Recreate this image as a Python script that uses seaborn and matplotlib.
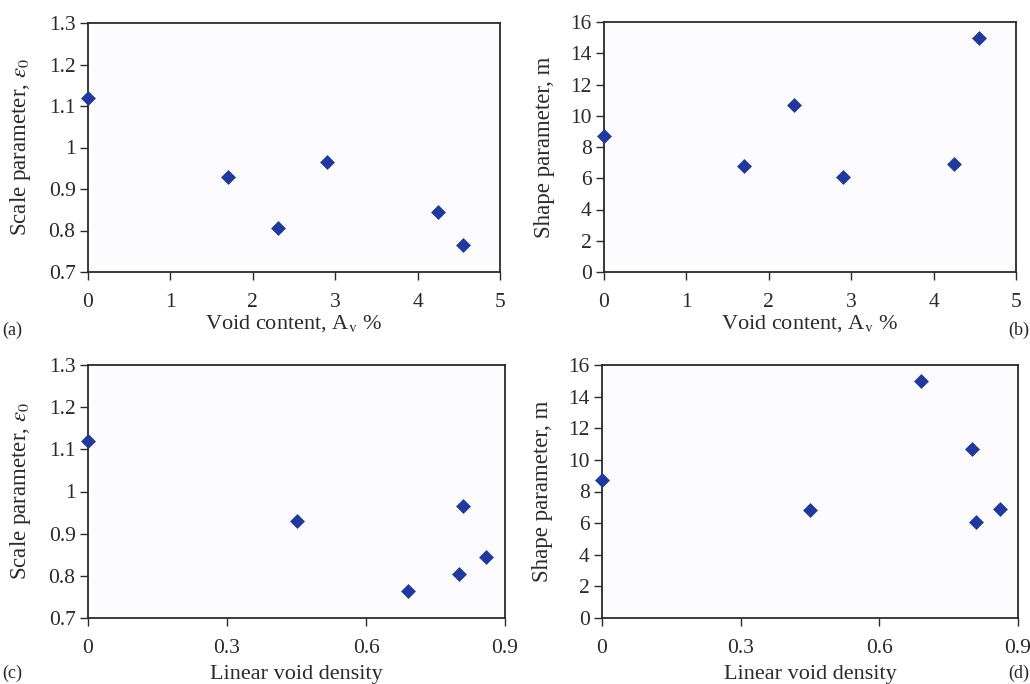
import matplotlib
matplotlib.use("Agg")
import matplotlib.pyplot as plt
import seaborn as sns
import pandas as pd

void_content = [0.0, 1.7, 2.3, 2.9, 4.25, 4.55]
linear_void_density = [0.0, 0.45, 0.80, 0.81, 0.86, 0.69]
scale_param = [1.12, 0.93, 0.805, 0.965, 0.845, 0.765]
shape_param = [8.7, 6.8, 10.7, 6.1, 6.9, 15.0]

df = pd.DataFrame({"vc": void_content, "lvd": linear_void_density,
                   "scale": scale_param, "shape": shape_param})

sns.set_theme(style="ticks")
plt.rcParams['font.family'] = ['Liberation Serif', 'DejaVu Serif']
plt.rcParams['mathtext.fontset'] = 'stix'

fig = plt.figure(figsize=(10.3, 6.84), dpi=100)
W, H = 1030, 684
def add_ax(l, t, r, b):
    return fig.add_axes([l / W, 1 - b / H, (r - l) / W, (b - t) / H])

axA = add_ax(88, 23, 500, 272)
axB = add_ax(604, 22, 1016, 272)
axC = add_ax(88, 365, 505, 618)
axD = add_ax(602, 365, 1018, 618)

color = "#1f399c"
specs = [
    (axA, "vc", "scale", (0, 5), [0, 1, 2, 3, 4, 5], (0.7, 1.3), [0.7, 0.8, 0.9, 1.0, 1.1, 1.2, 1.3],
     r"Void content, A$_\mathrm{v}$ %", r"Scale parameter, $\varepsilon_0$", 1),
    (axB, "vc", "shape", (0, 5), [0, 1, 2, 3, 4, 5], (0, 16), list(range(0, 17, 2)),
     r"Void content, A$_\mathrm{v}$ %", "Shape parameter, m", 1),
    (axC, "lvd", "scale", (0, 0.9), [0, 0.3, 0.6, 0.9], (0.7, 1.3), [0.7, 0.8, 0.9, 1.0, 1.1, 1.2, 1.3],
     "Linear void density", r"Scale parameter, $\varepsilon_0$", 5),
    (axD, "lvd", "shape", (0, 0.9), [0, 0.3, 0.6, 0.9], (0, 16), list(range(0, 17, 2)),
     "Linear void density", "Shape parameter, m", 5),
]

def fmt(v):
    return f"{v:g}"

for ax, xc, yc, xl, xt, yl, yt, xlab, ylab, xpad in specs:
    sns.scatterplot(data=df, x=xc, y=yc, ax=ax, marker="D", s=50, color=color,
                    edgecolor=color, linewidth=0.5, clip_on=False, zorder=5)
    ax.set_xlim(*xl)
    ax.set_ylim(*yl)
    ax.set_xticks(xt)
    ax.set_xticklabels([fmt(v) for v in xt])
    ax.set_yticks(yt)
    ax.set_yticklabels([fmt(v) for v in yt])
    ax.set_facecolor("#fcfcfe")
    for sp in ax.spines.values():
        sp.set_visible(True)
        sp.set_color("#2a2a2a")
        sp.set_linewidth(1.3)
    ax.tick_params(axis="both", direction="out", length=6, width=1,
                   labelsize=15.5, colors="#2a2a2a")
    ax.tick_params(axis="x", pad=9)
    ax.tick_params(axis="y", pad=3)
    ax.set_xlabel(xlab, fontsize=16, labelpad=xpad, color="#2a2a2a")
    ax.set_ylabel(ylab, fontsize=16.5, labelpad=11, color="#2a2a2a")

fig.text(2 / W, 1 - 330 / H, "(a)", fontsize=13, ha="left", va="center")
fig.text(1029 / W, 1 - 330 / H, "(b)", fontsize=13, ha="right", va="center")
fig.text(2 / W, 1 - 673 / H, "(c)", fontsize=13, ha="left", va="center")
fig.text(1029 / W, 1 - 673 / H, "(d)", fontsize=13, ha="right", va="center")

fig.savefig("out.png", dpi=100, facecolor="white")
